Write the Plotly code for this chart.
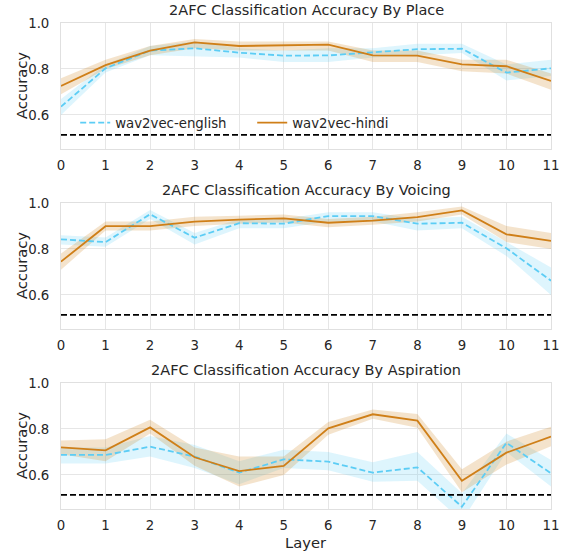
import plotly.graph_objects as go

layers = list(range(12))
tick_labels = [str(i) for i in layers]
titles = ["2AFC Classification Accuracy By Place",
          "2AFC Classification Accuracy By Voicing",
          "2AFC Classification Accuracy By Aspiration"]
series_names = ["wav2vec-english", "wav2vec-hindi"]
chance_level = 0.513

# Place
place_english = [0.636, 0.803, 0.880, 0.890, 0.871, 0.858, 0.859, 0.871, 0.886, 0.888, 0.784, 0.803]
place_english_lo = [0.600, 0.785, 0.860, 0.855, 0.850, 0.830, 0.830, 0.850, 0.860, 0.870, 0.750, 0.770]
place_english_hi = [0.670, 0.820, 0.900, 0.920, 0.890, 0.880, 0.890, 0.890, 0.910, 0.910, 0.820, 0.840]
place_hindi = [0.726, 0.817, 0.880, 0.916, 0.900, 0.904, 0.906, 0.859, 0.858, 0.820, 0.812, 0.748]
place_hindi_lo = [0.690, 0.800, 0.860, 0.890, 0.880, 0.880, 0.880, 0.830, 0.830, 0.790, 0.780, 0.710]
place_hindi_hi = [0.760, 0.840, 0.900, 0.930, 0.920, 0.920, 0.920, 0.880, 0.880, 0.840, 0.840, 0.780]

# Voicing
voicing_english = [0.842, 0.830, 0.951, 0.849, 0.912, 0.910, 0.943, 0.943, 0.910, 0.914, 0.803, 0.662]
voicing_english_lo = [0.820, 0.810, 0.930, 0.820, 0.890, 0.890, 0.920, 0.920, 0.880, 0.890, 0.770, 0.600]
voicing_english_hi = [0.860, 0.850, 0.970, 0.870, 0.930, 0.930, 0.960, 0.960, 0.930, 0.940, 0.830, 0.720]
voicing_hindi = [0.745, 0.899, 0.899, 0.919, 0.928, 0.933, 0.914, 0.923, 0.939, 0.968, 0.864, 0.835]
voicing_hindi_lo = [0.710, 0.880, 0.880, 0.900, 0.910, 0.915, 0.895, 0.905, 0.920, 0.950, 0.830, 0.800]
voicing_hindi_hi = [0.780, 0.920, 0.920, 0.940, 0.945, 0.950, 0.930, 0.940, 0.960, 0.985, 0.900, 0.870]

# Aspiration
asp_english = [0.687, 0.687, 0.723, 0.680, 0.610, 0.668, 0.658, 0.610, 0.633, 0.462, 0.740, 0.607]
asp_english_lo = [0.650, 0.650, 0.680, 0.630, 0.560, 0.630, 0.620, 0.570, 0.575, 0.400, 0.700, 0.550]
asp_english_hi = [0.720, 0.720, 0.770, 0.730, 0.660, 0.710, 0.700, 0.655, 0.700, 0.520, 0.780, 0.665]
asp_hindi = [0.720, 0.707, 0.807, 0.677, 0.617, 0.639, 0.803, 0.864, 0.836, 0.575, 0.697, 0.767]
asp_hindi_lo = [0.690, 0.660, 0.780, 0.640, 0.550, 0.600, 0.775, 0.845, 0.805, 0.525, 0.645, 0.725]
asp_hindi_hi = [0.750, 0.755, 0.840, 0.720, 0.680, 0.680, 0.830, 0.885, 0.865, 0.625, 0.745, 0.810]

panels = [
    (place_english, place_english_lo, place_english_hi, place_hindi, place_hindi_lo, place_hindi_hi),
    (voicing_english, voicing_english_lo, voicing_english_hi, voicing_hindi, voicing_hindi_lo, voicing_hindi_hi),
    (asp_english, asp_english_lo, asp_english_hi, asp_hindi, asp_hindi_lo, asp_hindi_hi),
]

EN_COLOR = "#5ccdf5"
HI_COLOR = "#cf7f18"
EN_FILL = "rgba(92,205,245,0.2)"
HI_FILL = "rgba(207,127,24,0.22)"
TEXT = "#262626"
FONT = "DejaVu Sans"

W, H = 564, 553
ML, MR, MT, MB = 61, 13, 23, 44
ph = H - MT - MB
pw = W - ML - MR
tops_px = [23, 203, 383]
panel_h = 126

fig = go.Figure()
layout_axes = {}
annotations = []
for i, (en, en_lo, en_hi, hi, hi_lo, hi_hi) in enumerate(panels):
    xa = "x" if i == 0 else f"x{i+1}"
    ya = "y" if i == 0 else f"y{i+1}"
    # bands
    for lo, up, fc in [(en_lo, en_hi, EN_FILL), (hi_lo, hi_hi, HI_FILL)]:
        fig.add_trace(go.Scatter(x=layers, y=up, mode="lines", line=dict(width=0),
                                 hoverinfo="skip", showlegend=False, xaxis=xa, yaxis=ya))
        fig.add_trace(go.Scatter(x=layers, y=lo, mode="lines", line=dict(width=0),
                                 fill="tonexty", fillcolor=fc, hoverinfo="skip",
                                 showlegend=False, xaxis=xa, yaxis=ya))
    fig.add_trace(go.Scatter(x=layers, y=en, mode="lines", name=series_names[0],
                             line=dict(color=EN_COLOR, width=1.8, dash="6px,3px"),
                             showlegend=(i == 0), xaxis=xa, yaxis=ya))
    fig.add_trace(go.Scatter(x=layers, y=hi, mode="lines", name=series_names[1],
                             line=dict(color=HI_COLOR, width=1.8),
                             showlegend=(i == 0), xaxis=xa, yaxis=ya))
    fig.add_trace(go.Scatter(x=[layers[0], layers[-1]], y=[chance_level, chance_level],
                             mode="lines", line=dict(color="black", width=1.8, dash="6px,3px"),
                             showlegend=False, hoverinfo="skip", xaxis=xa, yaxis=ya))

    top = 1 - (tops_px[i] - MT) / ph
    bot = 1 - (tops_px[i] + panel_h - MT) / ph
    axis_common = dict(showgrid=True, gridcolor="#e6e6e6", gridwidth=1,
                       showline=True, linecolor="#e0e0e0", linewidth=1, mirror=True,
                       zeroline=False, ticks="", tickfont=dict(size=13.3, color=TEXT, family=FONT))
    layout_axes["xaxis" if i == 0 else f"xaxis{i+1}"] = dict(
        axis_common, range=[0, 11], tickmode="array", tickvals=layers, ticktext=tick_labels,
        anchor=ya, domain=[0, 1], ticklabelstandoff=4)
    layout_axes["yaxis" if i == 0 else f"yaxis{i+1}"] = dict(
        axis_common, range=[0.452, 1.0], tickvals=[0.6, 0.8, 1.0], ticktext=["0.6", "0.8", "1.0"],
        anchor=xa, domain=[bot, top], ticklabelstandoff=8)
    annotations.append(dict(text=titles[i], xref=f"{xa} domain", yref=f"{ya} domain",
                            x=0.5, y=1, xanchor="center", yanchor="middle", yshift=13,
                            showarrow=False, font=dict(size=14.5, color=TEXT, family=FONT)))
    annotations.append(dict(text="Accuracy", xref="paper", yref=f"{ya} domain",
                            x=(21 - ML) / pw, y=0.5, xanchor="center", yanchor="middle",
                            textangle=-90, showarrow=False,
                            font=dict(size=14.7, color=TEXT, family=FONT)))

annotations.append(dict(text="Layer", xref="paper", yref="paper",
                        x=0.5, y=-(542 - (H - MB)) / ph, xanchor="center", yanchor="middle",
                        showarrow=False, font=dict(size=14.7, color=TEXT, family=FONT)))

fig.update_layout(
    width=W, height=H, margin=dict(l=ML, r=MR, t=MT, b=MB, autoexpand=False),
    paper_bgcolor="white", plot_bgcolor="white",
    font=dict(family=FONT, color=TEXT, size=13.3),
    showlegend=True,
    legend=dict(orientation="h", x=0.029, y=1 - (123 - MT) / ph, xanchor="left", yanchor="middle",
                traceorder="normal",
                bgcolor="rgba(255,255,255,0)", font=dict(size=13.3, color=TEXT, family=FONT),
                entrywidth=132, entrywidthmode="pixels"),
    annotations=annotations,
    **layout_axes,
)
fig.write_html("out.html", config={"displayModeBar": False},
               post_script="document.body.style.margin='0';document.body.style.overflow='hidden';")
